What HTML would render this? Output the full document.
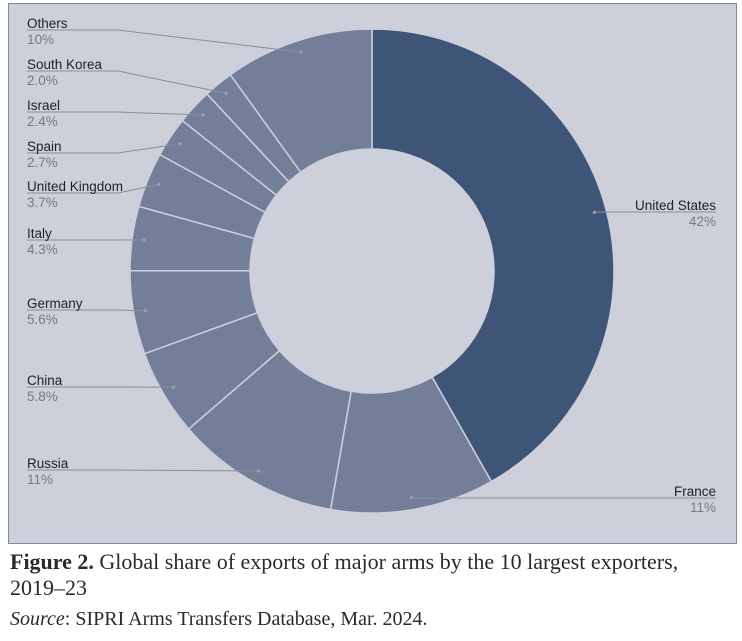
<!DOCTYPE html>
<html><head><meta charset="utf-8">
<style>
body{margin:0;width:742px;height:641px;background:#fff;overflow:hidden;font-family:"Liberation Sans",sans-serif}
#panel{position:absolute;left:8px;top:3px;width:727px;height:539px;background:#cdcfdb;border:1.5px solid #7d8ca3}
.cap{position:absolute;left:10px;font-family:"Liberation Serif",serif;color:#2a2a2a}
</style></head><body>
<div id="panel"></div>
<svg id="chart" width="742" height="545" style="position:absolute;left:0;top:0"></svg>
<div class="cap" style="top:549px;font-size:22px;line-height:26px;width:700px"><b>Figure 2.</b> Global share of exports of major arms by the 10 largest exporters, 2019–23</div>
<div class="cap" style="top:608px;font-size:20px"><i>Source</i>: SIPRI Arms Transfers Database, Mar. 2024.</div>
<script>
const categories=["United States","France","Russia","China","Germany","Italy","United Kingdom","Spain","Israel","South Korea","Others"];
const values=[42,11,11,5.8,5.6,4.3,3.7,2.7,2.4,2.0,10];
const valueLabels=["42%","11%","11%","5.8%","5.6%","4.3%","3.7%","2.7%","2.4%","2.0%","10%"];
const labelLineY=[212,498,470,387,310,240,193,153,112,71,30];
const svg=document.getElementById('chart');
const NS='http://www.w3.org/2000/svg';
const cx=372,cy=271,R=242,r=122,rd=230;
const total=values.reduce((a,b)=>a+b,0);
function pt(a,rad){return [cx+rad*Math.sin(a),cy-rad*Math.cos(a)];}
function mk(t,attrs){const e=document.createElementNS(NS,t);for(const k in attrs)e.setAttribute(k,attrs[k]);svg.appendChild(e);return e;}
let acc=0;
values.forEach((v,i)=>{
  const a0=acc/total*2*Math.PI,a1=(acc+v)/total*2*Math.PI;acc+=v;
  const big=(a1-a0)>Math.PI?1:0;
  const p0=pt(a0,R),p1=pt(a1,R),q1=pt(a1,r),q0=pt(a0,r);
  const p=mk('path',{d:`M${p0}L${p0}A${R},${R} 0 ${big} 1 ${p1}L${q1}A${r},${r} 0 ${big} 0 ${q0}Z`,fill:i===0?'#3e5578':'#737f99',stroke:'#cdcfdb','stroke-width':1.5});
  
  
  const am=(a0+a1)/2,d=pt(am,rd),ly=labelLineY[i];
  const right=Math.sin(am)>0;
  let pts;
  if(right){pts=`${d[0]},${d[1]} ${d[0]+8},${ly} 716,${ly}`;}
  else{const ex=Math.min(118,d[0]-8);pts=`27,${ly} ${ex},${ly} ${d[0]},${d[1]}`;}
  const ln=mk('polyline',{points:pts,fill:'none',stroke:'#8a8e99','stroke-width':1});
  
  
  const dot=mk('circle',{cx:d[0],cy:d[1],r:1.6,fill:'#9aa0ad'});
  
  
  const x=right?716:27,anc=right?'end':'start';
  const t1=mk('text',{x:x,y:ly-2,'font-size':13.5,fill:'#222','text-anchor':anc,'font-family':'Liberation Sans, sans-serif'});
  t1.textContent=categories[i];
  
  
  const t2=mk('text',{x:x,y:ly+14,'font-size':13.5,fill:'#7a7a7a','text-anchor':anc,'font-family':'Liberation Sans, sans-serif'});
  t2.textContent=valueLabels[i];
  
  
});
</script>
</body></html>
